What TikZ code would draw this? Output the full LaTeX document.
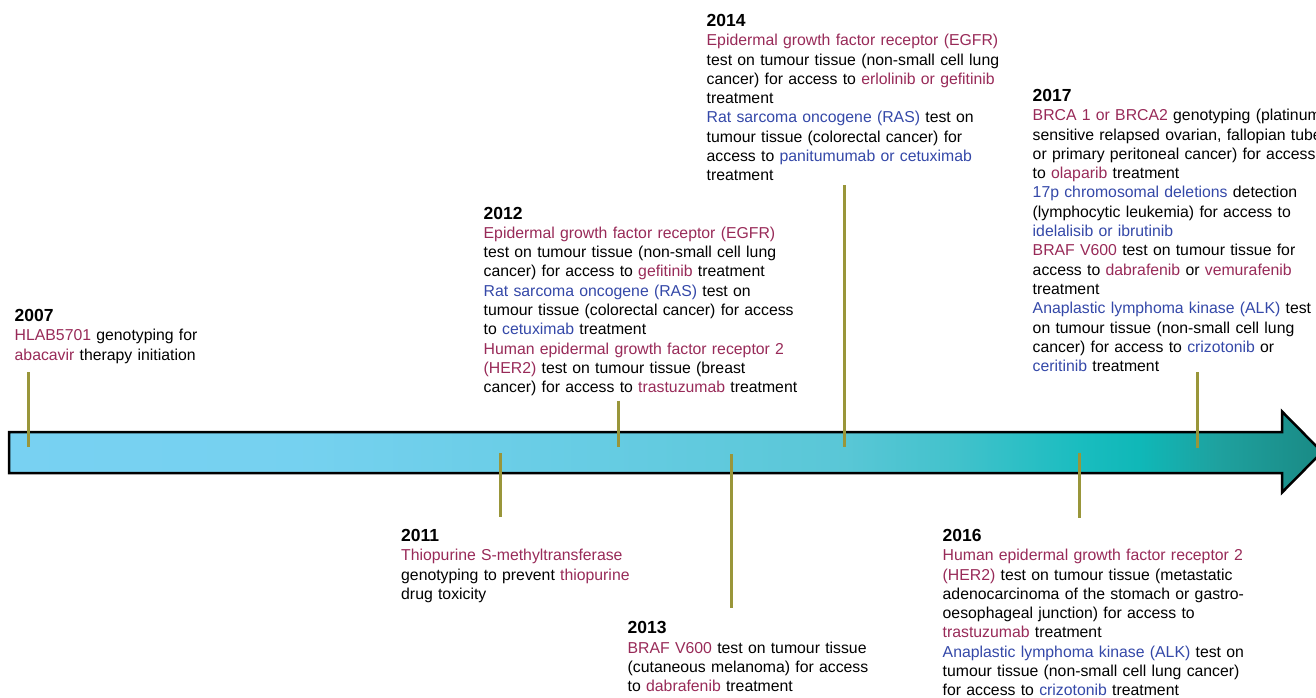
\documentclass[tikz,border=0pt]{standalone}
\usepackage{fontspec}
\setmainfont{Liberation Sans}
\definecolor{mr}{RGB}{152,42,88}
\definecolor{bl}{RGB}{52,72,168}
\definecolor{tickcol}{RGB}{153,150,58}
\pgfdeclarehorizontalshading{tlshade}{100bp}{%
 rgb(0bp)=(0.47,0.82,0.95);
 rgb(25bp)=(0.47,0.82,0.95);
 rgb(36bp)=(0.46,0.82,0.94);
 rgb(47.5bp)=(0.40,0.80,0.89);
 rgb(56.8bp)=(0.35,0.78,0.84);
 rgb(61bp)=(0.26,0.76,0.80);
 rgb(65.8bp)=(0.10,0.74,0.75);
 rgb(68.1bp)=(0.06,0.72,0.72);
 rgb(71.1bp)=(0.12,0.63,0.62);
 rgb(75bp)=(0.10,0.54,0.52);
 rgb(100bp)=(0.10,0.54,0.52)}
\newcommand{\yr}[1]{{\fontsize{17.5}{19.3}\selectfont\bfseries #1}}
\newcommand{\rd}[1]{\textcolor{mr}{#1}}
\newcommand{\bu}[1]{\textcolor{bl}{#1}}
\tikzset{
  blk/.style={anchor=north west, inner sep=0pt, text width=420pt, align=left,
    font=\fontsize{15.8}{19.3}\selectfont},
  tickline/.style={draw=tickcol, line width=3pt},
  timearrow/.style={draw=black, line width=2.5pt, line join=miter, shade, shading=tlshade}
}
\begin{document}
\begin{tikzpicture}[x=1pt,y=-1pt]
\useasboundingbox (0,0) rectangle (1316,698);

% arrow
\path[timearrow] (9,432) -- (1282,432) -- (1282,411.5) -- (1322,452) -- (1282,492.5) -- (1282,473) -- (9,473) -- cycle;

% text blocks
\node[blk] (b2007) at (14.5,309) {\yr{2007}\\
\rd{HLAB5701} genotyping for\\
\rd{abacavir} therapy initiation};

\node[blk] (b2011) at (401,529) {\yr{2011}\\
\rd{Thiopurine S-methyltransferase}\\
genotyping to prevent \rd{thiopurine}\\
drug toxicity};

\node[blk] (b2012) at (483.5,206.6) {\yr{2012}\\
\rd{Epidermal growth factor receptor (EGFR)}\\
test on tumour tissue (non-small cell lung\\
cancer) for access to \rd{gefitinib} treatment\\
\bu{Rat sarcoma oncogene (RAS)} test on\\
tumour tissue (colorectal cancer) for access\\
to \bu{cetuximab} treatment\\
\rd{Human epidermal growth factor receptor 2}\\
\rd{(HER2)} test on tumour tissue (breast\\
cancer) for access to \rd{trastuzumab} treatment};

\node[blk] (b2013) at (627.5,621.3) {\yr{2013}\\
\rd{BRAF V600} test on tumour tissue\\
(cutaneous melanoma) for access\\
to \rd{dabrafenib} treatment};

\node[blk] (b2014) at (706.5,14) {\yr{2014}\\
\rd{Epidermal growth factor receptor (EGFR)}\\
test on tumour tissue (non-small cell lung\\
cancer) for access to \rd{erlolinib or gefitinib}\\
treatment\\
\bu{Rat sarcoma oncogene (RAS)} test on\\
tumour tissue (colorectal cancer) for\\
access to \bu{panitumumab or cetuximab}\\
treatment};

\node[blk] (b2016) at (942.5,529) {\yr{2016}\\
\rd{Human epidermal growth factor receptor 2}\\
\rd{(HER2)} test on tumour tissue (metastatic\\
adenocarcinoma of the stomach or gastro-\\
oesophageal junction) for access to\\
\rd{trastuzumab} treatment\\
\bu{Anaplastic lymphoma kinase (ALK)} test on\\
tumour tissue (non-small cell lung cancer)\\
for access to \bu{crizotonib} treatment};

\node[blk] (b2017) at (1032.5,89) {\yr{2017}\\
\rd{BRCA 1 or BRCA2} genotyping (platinum\\
sensitive relapsed ovarian, fallopian tube\\
or primary peritoneal cancer) for access\\
to \rd{olaparib} treatment\\
\bu{17p chromosomal deletions} detection\\
(lymphocytic leukemia) for access to\\
\bu{idelalisib or ibrutinib}\\
\rd{BRAF V600} test on tumour tissue for\\
access to \rd{dabrafenib} or \rd{vemurafenib}\\
treatment\\
\bu{Anaplastic lymphoma kinase (ALK)} test\\
on tumour tissue (non-small cell lung\\
cancer) for access to \bu{crizotonib} or\\
\bu{ceritinib} treatment};

% tick marks
\coordinate (t07a) at (28,372);   \coordinate (t07b) at (28,447);
\coordinate (t11a) at (500,453);  \coordinate (t11b) at (500,517);
\coordinate (t12a) at (618,400.5);\coordinate (t12b) at (618,446.5);
\coordinate (t13a) at (731,454);  \coordinate (t13b) at (731,608);
\coordinate (t14a) at (844.5,185);\coordinate (t14b) at (844.5,446.5);
\coordinate (t16a) at (1079,453); \coordinate (t16b) at (1079,518);
\coordinate (t17a) at (1197,372); \coordinate (t17b) at (1197,448);
\draw[tickline] (t07a) -- (t07b);
\draw[tickline] (t11a) -- (t11b);
\draw[tickline] (t12a) -- (t12b);
\draw[tickline] (t13a) -- (t13b);
\draw[tickline] (t14a) -- (t14b);
\draw[tickline] (t16a) -- (t16b);
\draw[tickline] (t17a) -- (t17b);
\end{tikzpicture}
\end{document}
